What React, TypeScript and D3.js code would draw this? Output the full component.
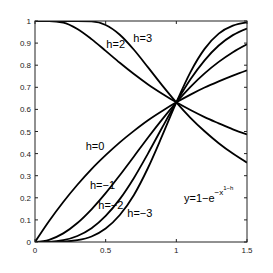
import * as d3 from "d3";

// x grid and curve values
const xs = [0, 0.1, 0.2, 0.3, 0.4, 0.5, 0.6, 0.7, 0.8, 0.9, 1.0, 1.1, 1.2, 1.3, 1.4, 1.5];
const hPos3 = [1, 1, 1, 1, 0.998, 0.982, 0.938, 0.87, 0.79, 0.709, 0.632, 0.562, 0.501, 0.447, 0.4, 0.359];
const hPos2 = [1, 1, 0.993, 0.964, 0.918, 0.865, 0.811, 0.76, 0.713, 0.671, 0.632, 0.597, 0.565, 0.537, 0.51, 0.487];
const hZero = [0, 0.095, 0.181, 0.259, 0.33, 0.393, 0.451, 0.503, 0.551, 0.593, 0.632, 0.667, 0.699, 0.727, 0.753, 0.777];
const hNeg1 = [0, 0.01, 0.039, 0.086, 0.148, 0.221, 0.302, 0.387, 0.473, 0.555, 0.632, 0.702, 0.763, 0.815, 0.859, 0.895];
const hNeg2 = [0, 0.001, 0.008, 0.027, 0.062, 0.118, 0.194, 0.29, 0.401, 0.518, 0.632, 0.736, 0.822, 0.889, 0.936, 0.966];
const hNeg3 = [0, 0.0001, 0.0016, 0.0081, 0.025, 0.061, 0.122, 0.213, 0.336, 0.481, 0.632, 0.769, 0.874, 0.943, 0.979, 0.994];

const series = [hPos3, hPos2, hZero, hNeg1, hNeg2, hNeg3];

const xTicks = [0, 0.5, 1, 1.5];
const xTickLabels = ["0", "0.5", "1", "1.5"];
const yTicks = [0, 0.1, 0.2, 0.3, 0.4, 0.5, 0.6, 0.7, 0.8, 0.9, 1];
const yTickLabels = ["0", "0.1", "0.2", "0.3", "0.4", "0.5", "0.6", "0.7", "0.8", "0.9", "1"];

// curve labels: [text, x, y] in data units
const curveLabels: [string, number, number][] = [
  ["h=3", 0.696, 0.906],
  ["h=2", 0.505, 0.876],
  ["h=0", 0.359, 0.416],
  ["h=\u22121", 0.389, 0.24],
  ["h=\u22122", 0.448, 0.149],
  ["h=\u22123", 0.653, 0.112],
];

const FONT = "'Liberation Sans Narrow', 'Liberation Sans', Arial, sans-serif";

export default function App() {
  const width = 273;
  const height = 273;
  const margin = { top: 21, right: 26, bottom: 31, left: 35 };
  const w = width - margin.left - margin.right;
  const h = height - margin.top - margin.bottom;

  const x = d3.scaleLinear().domain([0, 1.5]).range([0, w]);
  const y = d3.scaleLinear().domain([0, 1]).range([h, 0]);

  const line = d3
    .line<number>()
    .x((_, i) => x(xs[i]))
    .y((d) => y(d))
    .curve(d3.curveMonotoneX);

  const tk = 3;

  return (
    <svg
      width={width}
      height={height}
      style={{ position: "absolute", left: 0, top: 0, background: "#fff" }}
      fontFamily={FONT}
    >
      <g transform={`translate(${margin.left},${margin.top})`}>
        <defs>
          <clipPath id="plot">
            <rect x={0} y={0} width={w} height={h} />
          </clipPath>
        </defs>
        <g clipPath="url(#plot)">
          {series.map((s, i) => (
            <path key={i} d={line(s) ?? ""} fill="none" stroke="#000" strokeWidth={1.8} />
          ))}
        </g>
        <rect x={0} y={0} width={w} height={h} fill="none" stroke="#222" strokeWidth={1} />
        {xTicks.map((t, i) => (
          <g key={"x" + i}>
            <line x1={x(t)} x2={x(t)} y1={h} y2={h - tk} stroke="#222" />
            <line x1={x(t)} x2={x(t)} y1={0} y2={tk} stroke="#222" />
            <text x={x(t)} y={h + 11} fontSize={8} textAnchor="middle" fill="#222">
              {xTickLabels[i]}
            </text>
          </g>
        ))}
        {yTicks.map((t, i) => (
          <g key={"y" + i}>
            <line x1={0} x2={tk} y1={y(t)} y2={y(t)} stroke="#222" />
            <line x1={w} x2={w - tk} y1={y(t)} y2={y(t)} stroke="#222" />
            <text x={-4} y={y(t) + 3} fontSize={8} textAnchor="end" fill="#222">
              {yTickLabels[i]}
            </text>
          </g>
        ))}
        {curveLabels.map(([s, lx, ly], i) => (
          <text key={"l" + i} x={x(lx)} y={y(ly)} fontSize={11} fill="#000">
            {s}
          </text>
        ))}
        <text x={x(1.054)} y={y(0.182)} fontSize={11} fill="#000">
          y=1{"\u2212"}e
          <tspan fontSize={8} dy={-7}>{"\u2212"}x</tspan>
          <tspan fontSize={6} dy={-5}>1{"\u2212"}h</tspan>
        </text>
      </g>
    </svg>
  );
}
